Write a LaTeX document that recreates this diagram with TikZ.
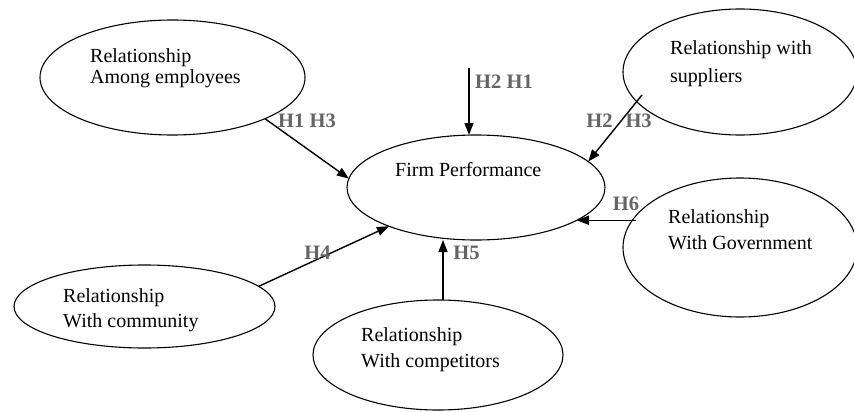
\documentclass[tikz,border=0pt]{standalone}
\usepackage{fontspec}
\setmainfont{Liberation Serif}
\usetikzlibrary{shapes.geometric,arrows.meta}
\definecolor{hgray}{RGB}{100,100,100}
\tikzset{
  ell/.style={draw, ellipse, inner sep=0pt, outer sep=0pt, line width=1.1pt},
  txt/.style={anchor=base west, inner sep=0pt, font=\fontsize{20}{23}\selectfont},
  hyp/.style={inner sep=0pt, text=hgray, font=\fontsize{20.5}{23}\selectfont\bfseries},
  arr/.style={line width=1.4pt, -{Triangle[length=12pt,width=9pt]}}
}
\begin{document}
\begin{tikzpicture}[x=1pt,y=-1pt]
\clip (0,0) rectangle (854,412);
\fill[white] (0,0) rectangle (854,412);
% ellipses
\node[ell, minimum width=265pt, minimum height=115pt] (emp) at (172.5,77.5) {};
\node[ell, minimum width=258pt, minimum height=105pt] (firm) at (476,187.5) {};
\node[ell, minimum width=234pt, minimum height=126pt] (sup) at (740,72) {};
\node[ell, minimum width=234pt, minimum height=139pt] (gov) at (740,247.5) {};
\node[ell, minimum width=261pt, minimum height=83pt] (com) at (144.5,306.5) {};
\node[ell, minimum width=250pt, minimum height=110pt] (cmp) at (438,355) {};
% texts
\node[txt] (emp1) at (90,62.7) {Relationship};
\node[txt] (emp2) at (90,83.3) {Among employees};
\node[txt] (firmt) at (395,176) {Firm Performance};
\node[txt] (sup1) at (670,55) {Relationship with};
\node[txt] (sup2) at (670,82.7) {suppliers};
\node[txt] (gov1) at (668,223) {Relationship};
\node[txt] (gov2) at (668,249) {With Government};
\node[txt] (com1) at (63,302) {Relationship};
\node[txt] (com2) at (63,327) {With community};
\node[txt] (cmp1) at (361,341) {Relationship};
\node[txt] (cmp2) at (361,367) {With competitors};
% connectors
\coordinate (top) at (469,68);
\coordinate (s3) at (642,95);
\coordinate (g6) at (636,0);
\coordinate (c5) at (443,0);
\draw[arr] (emp.-24) -- (firm.176);
\draw[arr] (top) -- (top |- firm.north);
\draw[arr] (s3) -- (firm.13);
\draw[arr] (g6 |- firm.-18) -- (firm.-18);
\draw[arr] (c5 |- cmp.north) -- (c5 |- firm.south);
\draw[arr] (com.10) -- (firm.204);
% hypothesis labels
\node[hyp] (h13) at (307,120.5) {H1 H3};
\node[hyp] (h21) at (504,81.5) {H2 H1};
\node[hyp] (h23) at (619,120.5) {H2\hspace{13pt}H3};
\node[hyp] (h6) at (626,204) {H6};
\node[hyp] (h5) at (466.5,252.5) {H5};
\node[hyp] (h4) at (317.5,252.5) {H4};
\end{tikzpicture}
\end{document}
